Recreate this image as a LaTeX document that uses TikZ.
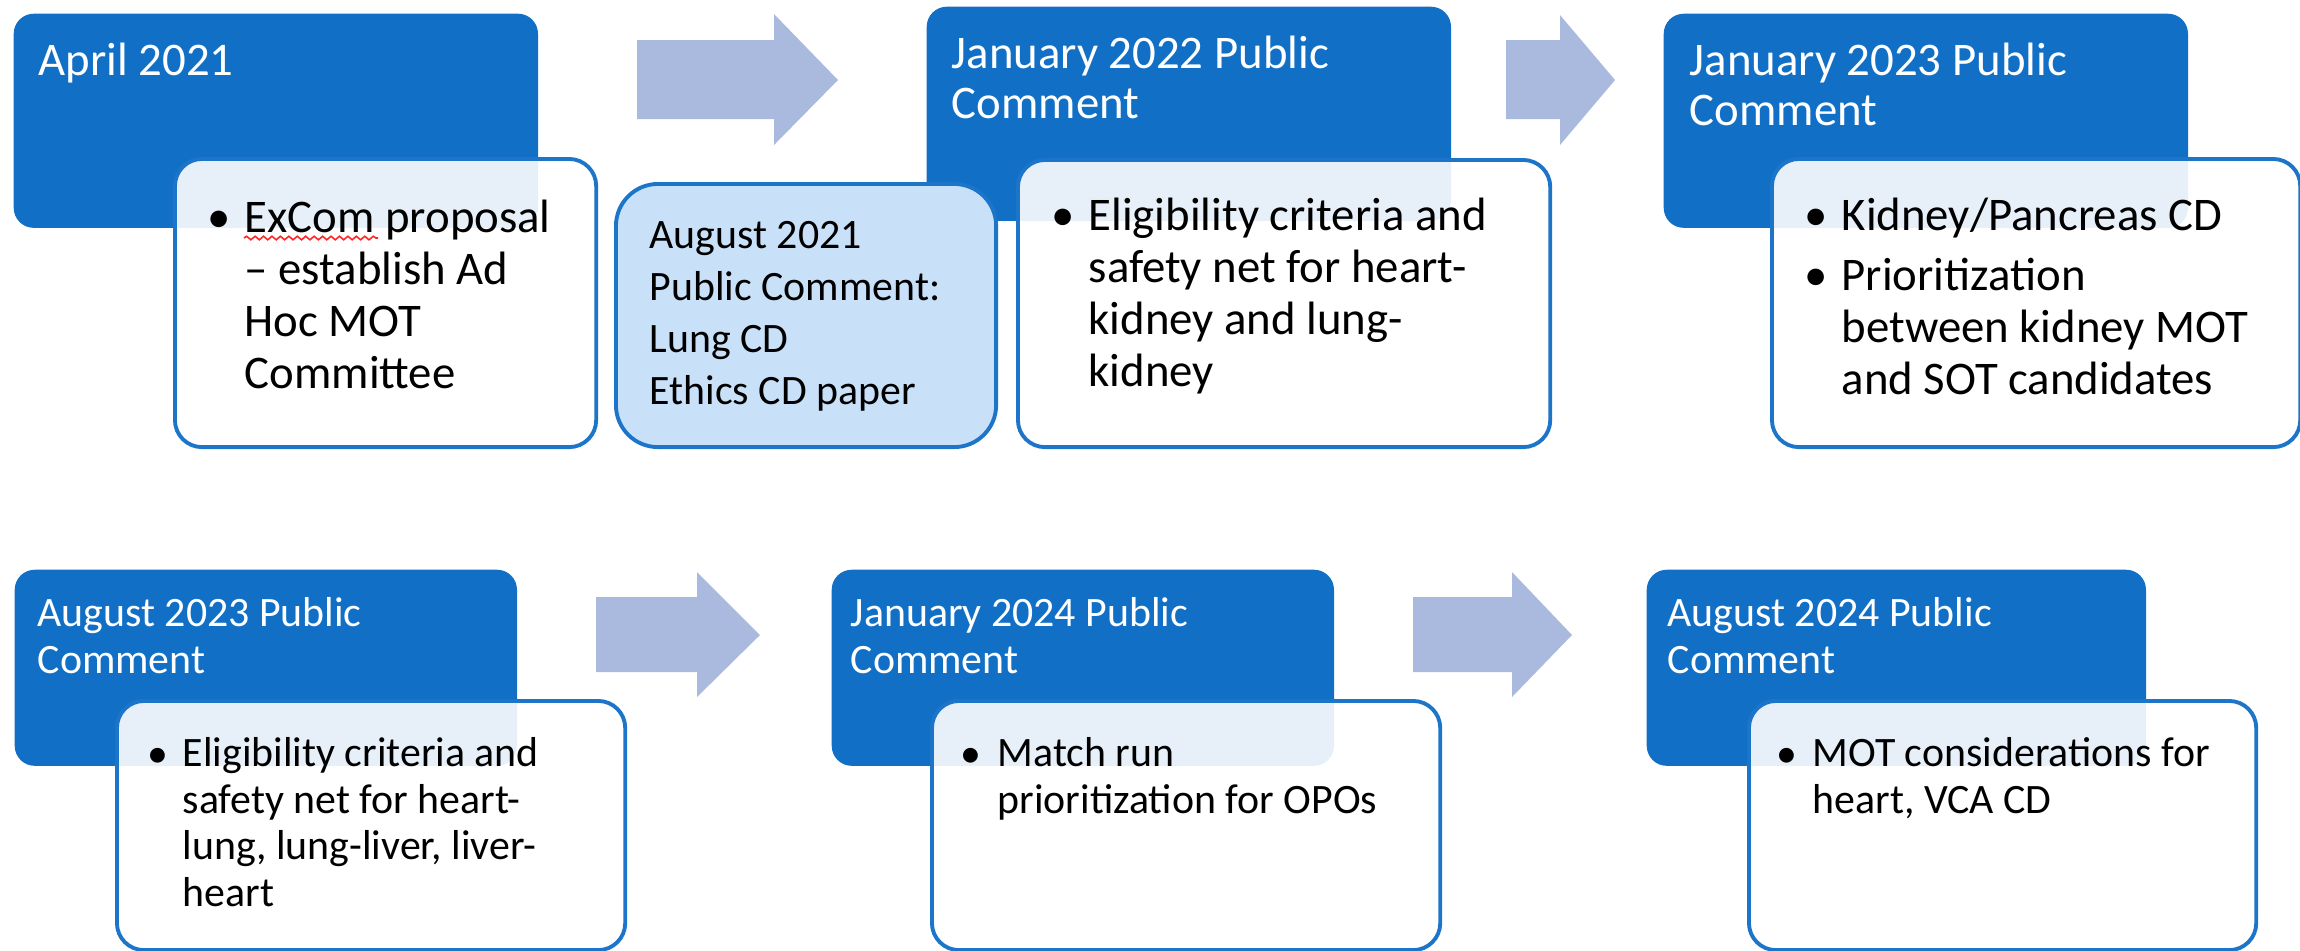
\documentclass[tikz,border=0pt]{standalone}
\usepackage{fontspec}
\setmainfont{Carlito}
\usetikzlibrary{positioning,decorations.pathmorphing}
\definecolor{stepblue}{RGB}{17,112,198}
\definecolor{edgeblue}{RGB}{28,117,201}
\definecolor{paleblue}{RGB}{201,225,248}
\definecolor{arrowgray}{RGB}{170,186,222}

\begin{document}
\begin{tikzpicture}[x=0.01cm, y=-0.01cm]
  \tikzstyle{head}=[rectangle, fill=stepblue, rounded corners=0.2cm, anchor=north west, inner sep=0]
  \tikzstyle{card}=[rectangle, draw=edgeblue, line width=1.1pt, fill=white, fill opacity=0.9, rounded corners=0.27cm, anchor=north west, inner sep=0]
  \tikzstyle{note}=[rectangle, draw=edgeblue, line width=1.1pt, fill=paleblue, rounded corners=0.42cm, anchor=north west, inner sep=0]
  \tikzstyle{title}=[anchor=base west, inner sep=0, align=left, text=white, font=\fontsize{13.3pt}{14.2pt}\selectfont]
  \tikzstyle{subtitle}=[anchor=base west, inner sep=0, align=left, text=white, font=\fontsize{11.9pt}{13.2pt}\selectfont]
  \tikzstyle{body}=[anchor=base west, inner sep=0, align=left, font=\fontsize{13.3pt}{14.75pt}\selectfont]
  \tikzstyle{subbody}=[anchor=base west, inner sep=0, align=left, font=\fontsize{11.9pt}{13.2pt}\selectfont]
  \tikzstyle{dot}=[anchor=base, inner sep=0, font=\fontsize{13.3pt}{14pt}\selectfont]
  \tikzstyle{subdot}=[anchor=base, inner sep=0, font=\fontsize{11.9pt}{13pt}\selectfont]

  \useasboundingbox (0,0) rectangle (2300,950);

  \node[head, minimum width=5.24cm, minimum height=2.14cm] (h1) at (13,13) {};
  \node[head, minimum width=5.24cm, minimum height=2.14cm] (h2) at (926,6) {};
  \node[head, minimum width=5.24cm, minimum height=2.14cm] (h3) at (1663,13) {};
  \node[head, minimum width=5.02cm, minimum height=1.96cm] (h4) at (14,569) {};
  \node[head, minimum width=5.02cm, minimum height=1.96cm] (h5) at (831,569) {};
  \node[head, minimum width=4.99cm, minimum height=1.96cm] (h6) at (1646,569) {};

  \fill[arrowgray] (637,40) -- (774,40) -- (774,14) -- (838,80) -- (774,145) -- (774,119) -- (637,119) -- cycle;
  \fill[arrowgray] (1506,40) -- (1560,40) -- (1560,15) -- (1615,80) -- (1560,145) -- (1560,119) -- (1506,119) -- cycle;
  \fill[arrowgray] (596,597) -- (697,597) -- (697,572) -- (760,635) -- (697,697) -- (697,672) -- (596,672) -- cycle;
  \fill[arrowgray] (1413,597) -- (1512,597) -- (1512,572) -- (1572,635) -- (1512,697) -- (1512,672) -- (1413,672) -- cycle;

  \node[card, minimum width=4.21cm, minimum height=2.88cm] (c1) at (173,157) {};
  \node[card, minimum width=5.32cm, minimum height=2.87cm] (c2) at (1016,158) {};
  \node[card, minimum width=5.28cm, minimum height=2.88cm] (c3) at (1770,157) {};
  \node[card, minimum width=5.08cm, minimum height=2.49cm] (c4) at (115,699) {};
  \node[card, minimum width=5.08cm, minimum height=2.49cm] (c5) at (930,699) {};
  \node[card, minimum width=5.07cm, minimum height=2.49cm] (c6) at (1747,699) {};
  \node[note, minimum width=3.80cm, minimum height=2.63cm] (aug21) at (614,182) {};

  \node[title] (t1) at (38,75) {April 2021};
  \node[title] (t2) at (951,118) {January 2022 Public\\Comment};
  \node[title] (t3) at (1689,125) {January 2023 Public\\Comment};
  \node[subtitle] (t4) at (37,673) {August 2023 Public\\Comment};
  \node[subtitle] (t5) at (850,673) {January 2024 Public\\Comment};
  \node[subtitle] (t6) at (1667,673) {August 2024 Public\\Comment};

  \node[dot] (d1) at (219,232) {\textbullet};
  \node[body] (b1) at (244,388) {ExCom proposal\\– establish Ad\\Hoc MOT\\Committee};
  \draw[red!85, line width=0.45pt, decorate, decoration={snake, amplitude=0.5pt, segment length=2.4pt}] (244,238) -- (378,238);
  \node[dot] (d2) at (1063,230) {\textbullet};
  \node[body] (b2) at (1088,386) {Eligibility criteria and\\safety net for heart-\\kidney and lung-\\kidney};
  \node[dot] (d3) at (1816,230) {\textbullet};
  \node[body] (b3) at (1841,230) {Kidney/Pancreas CD};
  \node[dot] (d3b) at (1816,290) {\textbullet};
  \node[body] (b3b) at (1841,394) {Prioritization\\between kidney MOT\\and SOT candidates};
  \node[anchor=base west, inner sep=0, align=left, font=\fontsize{11.9pt}{14.75pt}\selectfont] (n1) at (649,404) {August 2021\\Public Comment:\\Lung CD\\Ethics CD paper};

  \node[subdot] (d4) at (158,767) {\textbullet};
  \node[subbody] (b4) at (182,906) {Eligibility criteria and\\safety net for heart-\\lung, lung-liver, liver-\\heart};
  \node[subdot] (d5) at (971,767) {\textbullet};
  \node[subbody] (b5) at (997,813) {Match run\\prioritization for OPOs};
  \node[subdot] (d6) at (1787,767) {\textbullet};
  \node[subbody] (b6) at (1812,813) {MOT considerations for\\heart, VCA CD};
\end{tikzpicture}
\end{document}
